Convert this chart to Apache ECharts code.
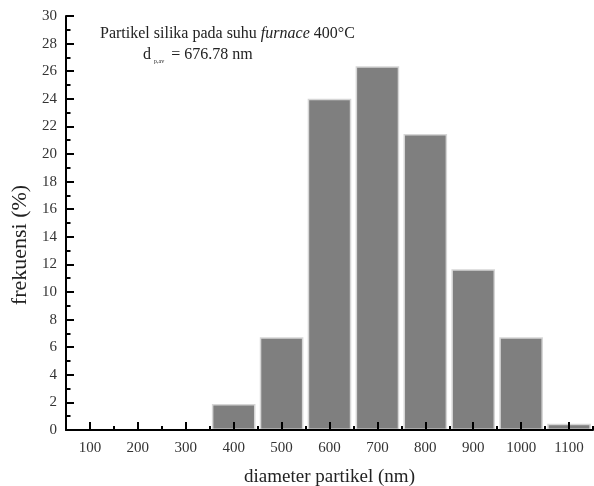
<!DOCTYPE html>
<html>
<head>
<meta charset="utf-8">
<script src="https://cdn.jsdelivr.net/npm/echarts@6/dist/echarts.min.js"></script>
<style>html,body{margin:0;padding:0;background:#fff;}#chart{width:594px;height:486px;}</style>
</head>
<body>
<div id="chart"></div>
<script>
const categories = ['100','200','300','400','500','600','700','800','900','1000','1100'];
const frequency = [0, 0, 0, 1.88, 6.72, 24.0, 26.35, 21.45, 11.65, 6.72, 0.45];
const yTicks = {min: 0, max: 30, interval: 2};
const xAxisTitle = 'diameter partikel (nm)';
const yAxisTitle = 'frekuensi (%)';

const FONT = '"Liberation Serif", "DejaVu Serif", serif';
const chart = echarts.init(document.getElementById('chart'), null, {renderer: 'canvas'});
chart.setOption({
  animation: false,
  backgroundColor: '#ffffff',
  title: [
    {
      text: 'Partikel silika pada suhu {i|furnace} 400°C',
      left: 100, top: 26, padding: 0,
      textStyle: {
        fontFamily: FONT, fontSize: 16, fontWeight: 'normal', color: '#222',
        rich: { i: {fontFamily: FONT, fontSize: 16, fontStyle: 'italic', color: '#222'} }
      }
    },
    {
      text: 'd{sub|p,av} = 676.78 nm',
      left: 143, top: 46, padding: 0,
      textStyle: {
        fontFamily: FONT, fontSize: 16, fontWeight: 'normal', color: '#222',
        rich: { sub: {fontFamily: FONT, fontSize: 6, color: '#222', padding: [12, 3, 0, 3]} }
      }
    }
  ],
  grid: {left: 66, right: 1, top: 16, bottom: 56, containLabel: false, outerBoundsMode: 'none'},
  xAxis: [
    {
      type: 'category',
      data: categories,
      boundaryGap: true,
      name: xAxisTitle,
      nameLocation: 'middle',
      nameGap: 38,
      nameTextStyle: {fontFamily: FONT, fontSize: 19, color: '#222'},
      axisLine: {show: true, lineStyle: {color: '#000', width: 2}},
      axisTick: {show: true, interval: 0, inside: true, alignWithLabel: true, length: 8, lineStyle: {color: '#000', width: 2}},
      axisLabel: {fontFamily: FONT, fontSize: 15, color: '#333', margin: 11},
      splitLine: {show: false}
    },
    {
      type: 'category',
      data: categories,
      boundaryGap: true,
      position: 'bottom',
      axisLine: {show: false},
      axisTick: {show: true, interval: 0, inside: true, alignWithLabel: false, length: 4, lineStyle: {color: '#000', width: 2}},
      axisLabel: {show: false},
      splitLine: {show: false}
    }
  ],
  yAxis: {
    type: 'value',
    min: yTicks.min, max: yTicks.max, interval: yTicks.interval,
    name: yAxisTitle,
    nameLocation: 'middle',
    nameGap: 34,
    nameTextStyle: {fontFamily: FONT, fontSize: 22, color: '#222', padding: [0, 44, 0, 0]},
    axisLine: {show: true, lineStyle: {color: '#000', width: 2}},
    axisTick: {show: true, inside: true, length: 8, lineStyle: {color: '#000', width: 2}},
    minorTick: {show: true, splitNumber: 2, length: 4.5, lineStyle: {color: '#000', width: 2}},
    axisLabel: {fontFamily: FONT, fontSize: 15, color: '#333', margin: 9},
    splitLine: {show: false}
  },
  series: [{
    type: 'bar',
    data: frequency,
    xAxisIndex: 0,
    barCategoryGap: '9%',
    itemStyle: {color: '#7f7f7f', borderColor: '#d6d6d6', borderWidth: 1.5},
    z: -1
  }]
});
</script>
</body>
</html>
